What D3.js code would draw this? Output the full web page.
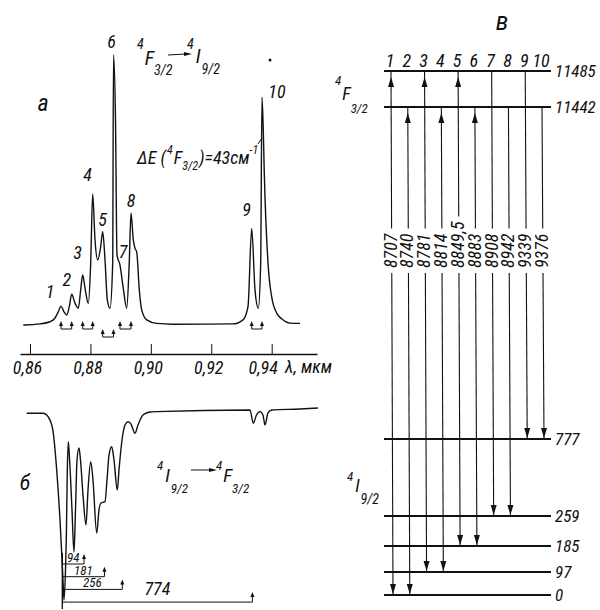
<!DOCTYPE html>
<html>
<head>
<meta charset="utf-8">
<script src="https://cdn.jsdelivr.net/npm/d3@7"></script>
<style>
  body { margin: 0; background: #fff; }
  svg text {
    font-family: "Roboto Condensed", "DejaVu Sans Condensed", sans-serif;
    font-style: italic;
    fill: #111;
  }
</style>
</head>
<body>
<svg id="fig" width="600" height="610"></svg>
<script>
// emission spectrum (a): wavelength in mkm, intensity in arb. units
const emLam = [0.85778,0.86331,0.86662,0.86828,0.86937,0.87026,0.87125,0.87215,0.87301,0.87380,
  0.87490,0.87599,0.87678,0.87744,0.87830,0.87930,0.88009,0.88075,0.88152,0.88241,
  0.88340,0.88406,0.88483,0.88559,0.88648,0.88737,0.88764,0.88830,0.88880,0.88979,
  0.89095,0.89201,0.89285,0.89343,0.89419,0.89476,0.89532,0.89618,0.89697,0.89863,
  0.90194,0.90733,0.92719,0.93050,0.93216,0.93338,0.93448,0.93557,0.93636,0.93679,
  0.93722,0.93755,0.93878,0.94000,0.94166,0.94341,0.94606,0.94937];
const emInt = [0,0.4,1.2,2.6,4.9,7.0,4.9,3.7,6.8,11.4,
  8.1,6.2,13.0,18.5,13.0,8.0,23.0,48.5,31.5,24.1,
  29.0,34.6,24.1,9.3,6.2,23.0,100,75.9,25.9,22.2,
  13.0,6.2,23.0,41.5,31.5,28.4,27.1,13.0,5.6,1.9,
  0.6,0.3,0.4,1.9,6.8,35.8,13.0,6.2,23.0,84.4,
  72.0,56.3,23.0,10.4,4.4,2.2,0.7,0.6];

// absorption spectrum (б): depth of the dip in arb. units
const abLam = [0.85891,0.86440,0.86662,0.86771,0.86884,0.86993,0.87049,0.87092,0.87125,0.87175,
  0.87201,0.87235,0.87268,0.87311,0.87390,0.87456,0.87506,0.87556,0.87622,0.87671,
  0.87754,0.87853,0.87920,0.88009,0.88085,0.88208,0.88284,0.88350,0.88482,0.88549,
  0.88615,0.88704,0.88780,0.88890,0.88946,0.89045,0.89145,0.89244,0.89343,0.89475,
  0.89575,0.89740,0.89972,0.90194,0.93282,0.93391,0.93497,0.93613,0.93712,0.93778,
  0.93878,0.94000,0.94937,0.95532];
const abDep = [0.7,0.7,4.3,11.2,30.9,57.4,75.0,89.4,100,84.0,
  68.1,30.9,15.8,25.5,52.1,74.5,52.1,25.5,19.1,25.5,
  44.1,60.1,41.5,26.4,36.2,64.4,52.1,48.4,47.7,36.2,
  22.9,18.5,25.5,41.5,30.9,14.9,6.9,5.2,6.4,11.3,
  6.9,1.6,0,-0.2,-1.1,6.0,1.6,-0.2,1.6,6.9,
  0.5,-1.1,-1.6,-2.1];

const peakNames = ["1","2","3","4","5","6","7","8","9","10"];
const peakLam = [0.87026,0.87380,0.87744,0.88075,0.88406,0.88764,0.88979,0.89343,0.93338,0.93679];
const peakInt = [7.0,11.4,18.5,48.5,34.6,100,22.2,41.5,35.8,84.4];
const tickVals = [0.86,0.88,0.90,0.92,0.94];

// ground-state splittings seen in absorption, cm-1
const abShift = [94,181,256,774];

// level scheme (в), cm-1
const levels = [0,97,185,259,777,11442,11485];
const lineUpper = [11485,11442,11485,11442,11485,11442,11485,11442,11485,11442];
const lineLower = [0,0,97,97,185,185,259,259,777,777];
const lineLabel = ["8707","8740","8781","8814","8849,5","8883","8908","8942","9339","9376"];
const lineBoth = [true,true,true,true,true,true,false,false,false,false];

// layout tweaks
const labelNudge = [[-11,-14],[-5,-14],[-5,-22],[-5,-19],[0,-12],[-2,-13],[3,-13],[0,-12],[-5,-18],[15,-5]];
const bracketRow = [0,0,1,0,0];

const svg = d3.select("#fig");
svg.append("rect").attr("width",600).attr("height",610).attr("fill","#fff");

const x = d3.scaleLinear().domain([0.85669, 0.95500]).range([20, 317]);
const yEm = d3.scaleLinear().domain([0, 100]).range([325, 55]);
const yAb = d3.scaleLinear().domain([0, 100]).range([412, 600]);

function head(g, hx, hy, dir, len, w) {
  // dir: "up" | "down" | "right"
  let p;
  if (dir == "up") p = [[hx,hy],[hx-w,hy+len],[hx+w,hy+len]];
  else if (dir == "down") p = [[hx,hy],[hx-w,hy-len],[hx+w,hy-len]];
  else p = [[hx,hy],[hx-len,hy-w],[hx-len,hy+w]];
  g.append("path").attr("d","M"+p.join("L")+"Z").attr("fill","#111");
}

function rich(x0, y0, parts) {
  const t = svg.append("text").attr("x", x0).attr("y", y0);
  let cur = 0;
  parts.forEach(function (p) {
    t.append("tspan").attr("dy", p[2] - cur).attr("dx", p[3] || 0)
      .style("font-size", p[1] + "px").text(p[0]);
    cur = p[2];
  });
  return t;
}

// ---------- panel a ----------
const gA = svg.append("g");
gA.append("path")
  .attr("d", d3.line().x(function (d, i) { return x(emLam[i]); })
    .y(function (d) { return yEm(d); }).curve(d3.curveMonotoneX)(emInt))
  .attr("fill","none").attr("stroke","#111").attr("stroke-width",1.4);

const axis = d3.axisBottom(x).tickValues(tickVals).tickSize(-10).tickSizeOuter(0).tickPadding(7)
  .tickFormat(function (d) { return d3.format(".2f")(d).replace(".", ","); });
const gx = svg.append("g").attr("transform","translate(0,354)").call(axis);
gx.select(".domain").attr("stroke","#111").attr("stroke-width",1.4);
gx.selectAll(".tick line").attr("stroke","#111").attr("stroke-width",1);
gx.selectAll(".tick text").attr("font-family",null).attr("font-size",null)
  .style("font-size","18px").attr("dx",-3).attr("fill","#111");
gx.selectAll(".tick text").filter(function (d) { return d == 0.94; }).attr("dx",-9);
svg.append("text").attr("x",285).attr("y",373).style("font-size","18px").text("λ, мкм");

// peak labels
peakNames.forEach(function (n, i) {
  svg.append("text")
    .attr("x", x(peakLam[i]) + labelNudge[i][0])
    .attr("y", yEm(peakInt[i]) + labelNudge[i][1] + 6)
    .attr("text-anchor","middle").style("font-size","18px").text(n);
});

// doublet brackets under the peaks
for (let k = 0; k < 5; k++) {
  const xa = x(peakLam[2*k]), xb = x(peakLam[2*k+1]);
  const yb = 329 + bracketRow[k]*8;
  gA.append("path").attr("d","M"+xa+","+(yb-5)+"V"+yb+"H"+xb+"V"+(yb-5))
    .attr("fill","none").attr("stroke","#111").attr("stroke-width",1);
  head(gA, xa, yb-8, "up", 5, 2);
  head(gA, xb, yb-8, "up", 5, 2);
}

svg.append("text").attr("x",43).attr("y",111).attr("text-anchor","middle").style("font-size","24px").text("а");
rich(137, 65, [["4",14,-16],["F",20,0,1],["3/2",14,10,0]]);
svg.append("line").attr("x1",168).attr("x2",186).attr("y1",55).attr("y2",54).attr("stroke","#111").attr("stroke-width",1);
head(svg, 192, 54, "right", 8, 2);
rich(187, 63, [["4",14,-14],["I",20,0,2],["9/2",14,11,1]]);
rich(137, 164, [["ΔE (",18,0],["4",12,-10,1],["F",18,0,1],["3/2",12,6,0],[")=43см",18,0,1],["-1",12,-10]]);
svg.append("line").attr("x1",258).attr("y1",144).attr("x2",262).attr("y2",138).attr("stroke","#111").attr("stroke-width",1);
svg.append("circle").attr("cx",270).attr("cy",60).attr("r",1.5).attr("fill","#111");

// ---------- panel б ----------
const gB = svg.append("g");
gB.append("path")
  .attr("d", d3.line().x(function (d, i) { return x(abLam[i]); })
    .y(function (d) { return yAb(d); }).curve(d3.curveMonotoneX)(abDep))
  .attr("fill","none").attr("stroke","#111").attr("stroke-width",1.4);

const x0 = x(1e4 / 11485);
gB.append("line").attr("x1",x0).attr("x2",x0).attr("y1",553).attr("y2",609)
  .attr("stroke","#111").attr("stroke-width",1.4);
abShift.forEach(function (s, k) {
  const xe = x(1e4 / (11485 - s));
  const yr = 564 + k*12.7;
  gB.append("path").attr("d","M"+x0+","+yr+"H"+xe+"V"+(yr-6))
    .attr("fill","none").attr("stroke","#111").attr("stroke-width",1);
  head(gB, xe, yr-10, "up", 5, 2);
  gB.append("text").attr("x",(x0+xe)/2).attr("y", k < 3 ? yr-2 : yr-7)
    .attr("text-anchor","middle").style("font-size", k < 3 ? "13px" : "18px").text(s);
});

svg.append("text").attr("x",25).attr("y",490).attr("text-anchor","middle").style("font-size","22px").text("б");
rich(157, 482, [["4",13,-12],["I",19,0,2],["9/2",13,11,1]]);
svg.append("line").attr("x1",191).attr("x2",210).attr("y1",470).attr("y2",470).attr("stroke","#111").attr("stroke-width",1);
head(svg, 217, 470, "right", 8, 2);
rich(216, 482, [["4",13,-12],["F",19,0,1],["3/2",13,11,0]]);

// ---------- panel в ----------
const yLev = d3.scaleLinear().domain(levels).range([595,572,546,516,439,107,71]);
const xLine = d3.scalePoint().domain(d3.range(10)).range([391, 542]);
const gC = svg.append("g");

levels.forEach(function (e) {
  gC.append("line").attr("x1",384).attr("x2",551).attr("y1",yLev(e)).attr("y2",yLev(e))
    .attr("stroke","#111").attr("stroke-width",1.8);
  gC.append("text").attr("x",555).attr("y",yLev(e)+6).style("font-size","17px").text(e);
});

lineLabel.forEach(function (lab, i) {
  const xt = xLine(i), xb = xt + 2;
  const y1 = yLev(lineUpper[i]), y2 = yLev(lineLower[i]);
  const xAt = function (yy) { return xt + (xb - xt) * (yy - y1) / (y2 - y1); };
  const gapBottom = 273;
  const t = gC.append("text")
    .attr("transform","translate(" + (xAt(268) + 5) + ",268) rotate(-90)")
    .style("font-size","18px").text(lab);
  const gapTop = 268 - t.node().getComputedTextLength() - 5;
  gC.append("line").attr("x1",xt).attr("y1",y1).attr("x2",xAt(gapTop)).attr("y2",gapTop)
    .attr("stroke","#111").attr("stroke-width",1.1);
  gC.append("line").attr("x1",xAt(gapBottom)).attr("y1",gapBottom).attr("x2",xb).attr("y2",y2)
    .attr("stroke","#111").attr("stroke-width",1.1);
  head(gC, xb, y2 - 1, "down", 10, 3);
  if (lineBoth[i]) head(gC, xAt(y1 + 6), y1 + 6, "up", 10, 3);
  gC.append("text").attr("x", xt - 1).attr("y", 67).attr("text-anchor","middle")
    .style("font-size","18px").text(peakNames[i]);
});

svg.append("text").attr("x",502).attr("y",30).attr("text-anchor","middle").style("font-size","26px").text("в");
rich(335, 100, [["4",13,-15],["F",18,0,1],["3/2",13,13,0]]);
rich(347, 492, [["4",13,-11],["I",18,0,2],["9/2",14,12,1]]);
</script>
</body>
</html>
